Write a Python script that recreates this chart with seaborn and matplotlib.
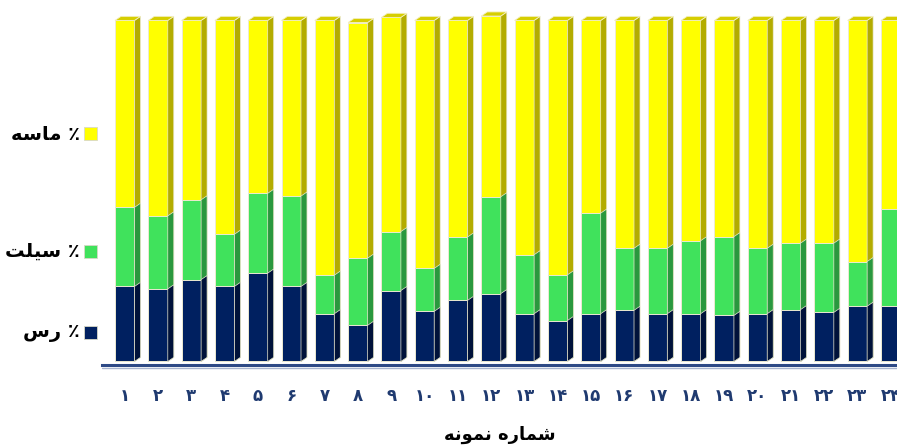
import numpy as np
import pandas as pd
import matplotlib
matplotlib.use("Agg")
import matplotlib.pyplot as plt
from matplotlib.patches import Polygon, Rectangle
from matplotlib.lines import Line2D
import seaborn as sns

# ---------------- data ----------------
samples = [str(i) for i in range(1, 25)]
tick_labels = ["۱", "۲", "۳", "۴", "۵", "۶", "۷", "۸", "۹", "۱۰", "۱۱", "۱۲",
               "۱۳", "۱۴", "۱۵", "۱۶", "۱۷", "۱۸", "۱۹", "۲۰", "۲۱", "۲۲", "۲۳", "۲۴"]
clay = [22.0, 21.3, 24.0, 22.0, 25.9, 22.0, 14.0, 10.6, 20.8, 14.7, 17.9, 19.9,
        14.0, 12.0, 14.0, 15.0, 14.0, 14.0, 13.5, 14.0, 15.2, 14.4, 16.2, 16.2]
silt = [23.2, 21.4, 23.4, 15.3, 23.4, 26.5, 11.3, 19.7, 17.3, 12.6, 18.6, 28.4,
        17.3, 13.4, 29.5, 18.2, 19.2, 21.4, 23.1, 19.2, 19.5, 20.3, 13.1, 28.4]
sand = [54.8, 57.3, 52.6, 62.7, 50.7, 51.5, 74.7, 69.1, 62.8, 72.7, 63.5, 53.0,
        68.7, 74.6, 56.5, 66.8, 66.8, 64.6, 63.4, 66.8, 65.3, 65.3, 70.7, 55.4]

# Persian labels (presentation forms, visual order)
label_sand = "\uFEEA\uFEB3\uFE8E\uFEE3 \u066A"      # ٪ ماسه
label_silt = "\uFE96\uFEE0\uFEF4\uFEB3 \u066A"      # ٪ سیلت
label_clay = "\uFEB1\uFEAD \u066A"                  # ٪ رس
xlabel_text = "\uFEEA\uFEE7\uFEEE\uFEE4\uFEE7 \uFEE9\uFEAD\uFE8E\uFEE4\uFEB7"  # شماره نمونه

# ---------------- style ----------------
sns.set_theme(style="white")
plt.rcParams['font.family'] = ['DejaVu Sans']

NAVY, NAVY_S = "#002060", "#00123a"
GREEN, GREEN_S = "#40E25C", "#2A983E"
YELLOW, YELLOW_S, YELLOW_T = "#FFFF00", "#B3AC00", "#D6CE00"

df = pd.DataFrame({"sample": samples, "clay": clay, "silt": silt, "sand": sand})
df["cum_silt"] = df["clay"] + df["silt"]
df["cum_sand"] = df["cum_silt"] + df["sand"]

fig = plt.figure(figsize=(8.97, 4.48), dpi=100)
ax = fig.add_axes([102 / 897, (448 - 365) / 448, 795 / 897, 365 / 448])

W = 0.585
DX, DY = 0.18, 1.2
layers = [("cum_sand", YELLOW, YELLOW_S, True),
          ("cum_silt", GREEN, GREEN_S, False),
          ("clay", NAVY, NAVY_S, False)]
for col, fc, sc, top in layers:
    n0 = len(ax.patches)
    sns.barplot(data=df, x="sample", y=col, color=fc, saturation=1, width=W,
                errorbar=None, edgecolor="#ecead2", linewidth=0.7, ax=ax)
    bars = list(ax.patches[n0:])
    for b in bars:
        xl = b.get_x()
        xr = xl + b.get_width()
        h = b.get_height()
        ax.add_patch(Polygon([(xr, 0), (xr + DX, DY), (xr + DX, h + DY), (xr, h)],
                             closed=True, fc=sc, ec="#ecead2", lw=0.5))
        if top:
            ax.add_patch(Polygon([(xl, h), (xl + DX, h + DY), (xr + DX, h + DY), (xr, h)],
                                 closed=True, fc=YELLOW_T, ec="#f4efc0", lw=0.6))

ax.set_xlim(-0.683, 23.19)
ax.set_ylim(-1.03, 106.0)
ax.set_yticks([])
ax.set_ylabel("")
ax.set_xlabel("")
ax.set_xticks(range(24))
ax.set_xticklabels(tick_labels, fontsize=12, fontweight="bold", color="#1F3A70")
ax.tick_params(axis="x", length=0, pad=16)
for s in ["top", "right", "left"]:
    ax.spines[s].set_visible(False)
ax.spines["bottom"].set_color("#2E4A86")
ax.spines["bottom"].set_linewidth(2.2)
ax.patch.set_visible(False)
# pale second line under the axis (double-line look)
fig.lines.append(Line2D([102 / 897, 1.0], [(448 - 367.5) / 448] * 2,
                        transform=fig.transFigure, color="#a9b6d0", lw=1.0))

fig.text(500 / 897, (448 - 435) / 448, xlabel_text, fontsize=13, fontweight="bold",
         color="black", ha="center", va="center")

# legend
legend_items = [(label_sand, YELLOW, 134), (label_silt, GREEN, 251), (label_clay, NAVY, 332)]
for txt, col, yc in legend_items:
    fig.patches.append(Rectangle((84 / 897, (448 - yc - 6.5) / 448), 13 / 897, 13 / 448,
                                 transform=fig.transFigure, fc=col, ec="#d8d8c8", lw=0.6))
    fig.text(80 / 897, (448 - yc) / 448, txt, fontsize=14, fontweight="bold",
             color="black", ha="right", va="center")

fig.savefig("out.png", dpi=100)
